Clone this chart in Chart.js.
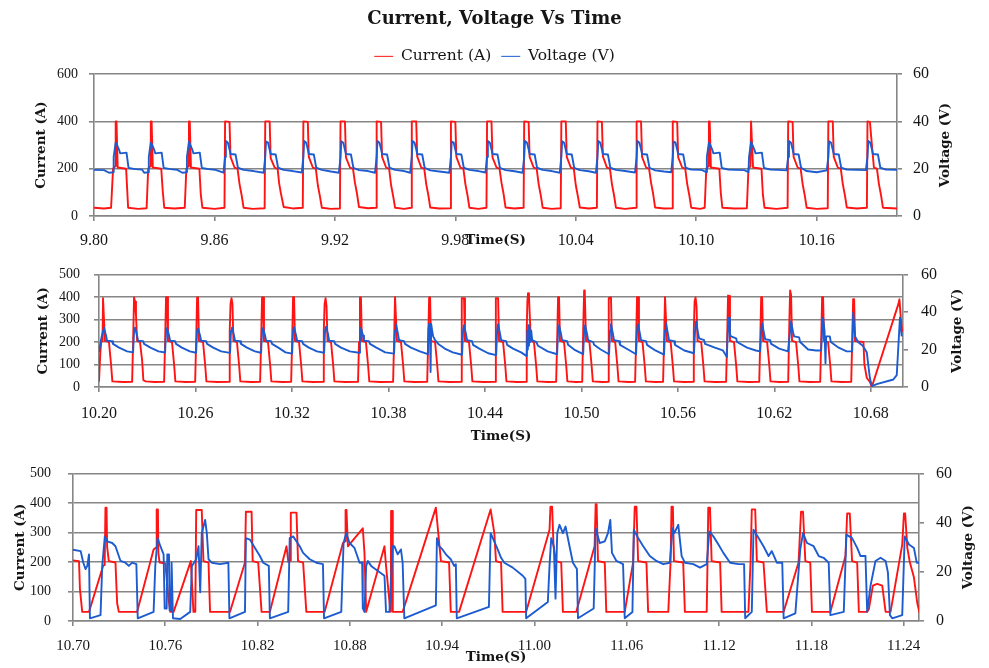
<!DOCTYPE html>
<html>
<head>
<meta charset="utf-8">
<title>Current, Voltage Vs Time</title>
<script src="https://cdn.jsdelivr.net/npm/chart.js@4.4.1/dist/chart.umd.min.js"></script>
<style>
  body { margin: 0; background: #fff; }
  #wrap { position: relative; width: 989px; height: 668px; }
  canvas { position: absolute; left: 0; }
</style>
</head>
<body>
<div id="wrap">
  <canvas id="c1" width="989" height="252" style="top:0"></canvas>
  <canvas id="c2" width="989" height="196" style="top:252px"></canvas>
  <canvas id="c3" width="989" height="220" style="top:448px"></canvas>
</div>
<script>
// Titles and series names
const chartTitle = 'Current, Voltage Vs Time';
const seriesNames = ['Current (A)', 'Voltage (V)'];
const timeTitle = 'Time(S)';

// Tick labels
const p1TimeTicks = [9.80, 9.86, 9.92, 9.98, 10.04, 10.10, 10.16];
const p2TimeTicks = [10.20, 10.26, 10.32, 10.38, 10.44, 10.50, 10.56, 10.62, 10.68];
const p3TimeTicks = [10.70, 10.76, 10.82, 10.88, 10.94, 11.00, 11.06, 11.12, 11.18, 11.24];
const p1AmpTicks = [0, 200, 400, 600];
const p23AmpTicks = [0, 100, 200, 300, 400, 500];
const voltTicks = [0, 20, 40, 60];

// Panel 1 (9.80 - 10.20 s): [time, value]
const p1Current = [
  [9.8000, 35], [9.8050, 32],
  [9.8085, 35], [9.8095, 200], [9.8105, 210], [9.8108, 400], [9.8112, 400], [9.8118, 205], [9.8160, 200], [9.8170, 35], [9.8220, 30],
  [9.8262, 33], [9.8270, 200], [9.8280, 210], [9.8283, 400], [9.8287, 400], [9.8293, 205], [9.8335, 200], [9.8342, 110], [9.8350, 35], [9.8400, 32],
  [9.8452, 35], [9.8460, 200], [9.8470, 210], [9.8473, 400], [9.8477, 400], [9.8483, 205], [9.8525, 200], [9.8532, 90], [9.8540, 35], [9.8600, 30],
  [9.8650, 35], [9.8653, 400], [9.8675, 398], [9.8680, 250], [9.8700, 205], [9.8715, 200], [9.8725, 135], [9.8735, 90], [9.8745, 35], [9.8790, 30],
  [9.8850, 33], [9.8853, 400], [9.8875, 400], [9.8880, 245], [9.8900, 205], [9.8915, 198], [9.8922, 140], [9.8930, 100], [9.8945, 38], [9.8990, 32],
  [9.9040, 35], [9.9043, 400], [9.9065, 398], [9.9070, 250], [9.9090, 205], [9.9105, 200], [9.9115, 130], [9.9125, 85], [9.9135, 35], [9.9180, 30],
  [9.9225, 32], [9.9228, 400], [9.9250, 400], [9.9255, 248], [9.9275, 205], [9.9290, 200], [9.9300, 140], [9.9310, 95], [9.9320, 38], [9.9365, 33],
  [9.9405, 35], [9.9408, 400], [9.9430, 398], [9.9435, 250], [9.9455, 205], [9.9470, 200], [9.9480, 130], [9.9490, 85], [9.9500, 35], [9.9545, 30],
  [9.9580, 35], [9.9583, 400], [9.9605, 400], [9.9610, 252], [9.9630, 205], [9.9645, 200], [9.9655, 135], [9.9665, 90], [9.9675, 36], [9.9720, 32],
  [9.9775, 33], [9.9778, 400], [9.9800, 398], [9.9805, 250], [9.9825, 205], [9.9840, 200], [9.9850, 135], [9.9860, 90], [9.9870, 35], [9.9915, 30],
  [9.9955, 35], [9.9958, 400], [9.9980, 400], [9.9985, 248], [10.0005, 205], [10.0020, 200], [10.0030, 140], [10.0040, 95], [10.0050, 36], [10.0095, 32],
  [10.0140, 35], [10.0143, 400], [10.0165, 398], [10.0170, 250], [10.0190, 205], [10.0205, 200], [10.0215, 135], [10.0225, 90], [10.0235, 35], [10.0280, 30],
  [10.0325, 33], [10.0328, 400], [10.0350, 400], [10.0355, 250], [10.0375, 205], [10.0390, 200], [10.0400, 130], [10.0410, 85], [10.0420, 36], [10.0465, 32],
  [10.0505, 35], [10.0508, 400], [10.0530, 398], [10.0535, 252], [10.0555, 205], [10.0570, 200], [10.0580, 135], [10.0590, 90], [10.0600, 35], [10.0645, 30],
  [10.0700, 35], [10.0703, 400], [10.0725, 400], [10.0730, 250], [10.0750, 205], [10.0765, 200], [10.0775, 140], [10.0785, 95], [10.0795, 36], [10.0840, 32],
  [10.0880, 33], [10.0883, 400], [10.0905, 398], [10.0910, 248], [10.0930, 205], [10.0945, 200], [10.0955, 135], [10.0965, 90], [10.0975, 35], [10.1020, 30],
  [10.1042, 35], [10.1050, 200], [10.1060, 210], [10.1063, 400], [10.1067, 400], [10.1073, 205], [10.1115, 200], [10.1122, 100], [10.1130, 35], [10.1190, 32],
  [10.1252, 33], [10.1260, 200], [10.1270, 210], [10.1273, 400], [10.1277, 400], [10.1283, 205], [10.1325, 200], [10.1332, 90], [10.1340, 35], [10.1400, 30],
  [10.1455, 35], [10.1458, 400], [10.1480, 398], [10.1485, 250], [10.1505, 205], [10.1520, 200], [10.1530, 135], [10.1540, 90], [10.1550, 35], [10.1600, 30],
  [10.1655, 33], [10.1658, 400], [10.1680, 400], [10.1685, 250], [10.1705, 205], [10.1720, 200], [10.1730, 135], [10.1740, 90], [10.1750, 36], [10.1800, 32],
  [10.1850, 35], [10.1853, 400], [10.1865, 398], [10.1875, 300], [10.1885, 205], [10.1900, 200], [10.1910, 135], [10.1920, 90], [10.1930, 35], [10.2000, 32]
];

const p1Voltage = [
  [9.8000, 19.5], [9.8050, 19.4],
  [9.8075, 18.3], [9.8095, 18.5], [9.8098, 25], [9.8108, 31], [9.8115, 30], [9.8125, 28], [9.8130, 26.5], [9.8162, 26.8], [9.8172, 20.3], [9.8205, 19.8], [9.8240, 19.6],
  [9.8250, 18.3], [9.8270, 18.5], [9.8273, 25], [9.8283, 31], [9.8290, 30], [9.8300, 28], [9.8305, 26.5], [9.8337, 26.8], [9.8347, 20.3], [9.8380, 19.8], [9.8415, 19.5],
  [9.8440, 18.3], [9.8460, 18.5], [9.8463, 25], [9.8473, 31.5], [9.8480, 30], [9.8490, 28], [9.8495, 26.5], [9.8527, 26.8], [9.8537, 20.3], [9.8570, 19.8], [9.8605, 19.5],
  [9.8645, 18.3], [9.8653, 25], [9.8657, 31.7], [9.8667, 31], [9.8675, 28.2], [9.8680, 26.2], [9.8705, 26], [9.8717, 20.4], [9.8745, 19.5], [9.8795, 19],
  [9.8845, 18.3], [9.8853, 25], [9.8857, 31.5], [9.8867, 31], [9.8875, 28], [9.8880, 26.2], [9.8905, 26], [9.8917, 20.4], [9.8945, 19.5], [9.8990, 19],
  [9.9035, 18.4], [9.9043, 25], [9.9047, 31.7], [9.9057, 31], [9.9065, 28.2], [9.9070, 26.2], [9.9095, 26], [9.9107, 20.4], [9.9135, 19.5], [9.9180, 18.8],
  [9.9220, 18.3], [9.9228, 25], [9.9232, 31.6], [9.9242, 31], [9.9250, 28], [9.9255, 26.2], [9.9280, 26], [9.9292, 20.4], [9.9320, 19.4], [9.9365, 19],
  [9.9400, 18.3], [9.9408, 25], [9.9412, 31.7], [9.9422, 31], [9.9430, 28.2], [9.9435, 26.2], [9.9460, 26], [9.9472, 20.4], [9.9500, 19.5], [9.9545, 19],
  [9.9575, 18.3], [9.9583, 25], [9.9587, 31.7], [9.9597, 31], [9.9605, 28.2], [9.9610, 26.2], [9.9635, 26], [9.9647, 20.4], [9.9675, 19.3], [9.9720, 18.8],
  [9.9770, 18.3], [9.9778, 25], [9.9782, 31.5], [9.9792, 31], [9.9800, 28], [9.9805, 26.2], [9.9830, 26], [9.9842, 20.4], [9.9870, 19.5], [9.9915, 19],
  [9.9950, 18.4], [9.9958, 25], [9.9962, 31.7], [9.9972, 31], [9.9980, 28.2], [9.9985, 26.2], [10.0010, 26], [10.0022, 20.4], [10.0050, 19.4], [10.0095, 18.9],
  [10.0135, 18.3], [10.0143, 25], [10.0147, 31.7], [10.0157, 31], [10.0165, 28.2], [10.0170, 26.2], [10.0195, 26], [10.0207, 20.4], [10.0235, 19.5], [10.0280, 19],
  [10.0320, 18.3], [10.0328, 25], [10.0332, 31.6], [10.0342, 31], [10.0350, 28], [10.0355, 26.2], [10.0380, 26], [10.0392, 20.4], [10.0420, 19.4], [10.0465, 18.9],
  [10.0500, 18.3], [10.0508, 25], [10.0512, 31.7], [10.0522, 31], [10.0530, 28.2], [10.0535, 26.2], [10.0560, 26], [10.0572, 20.4], [10.0600, 19.5], [10.0645, 19],
  [10.0695, 18.4], [10.0703, 25], [10.0707, 31.7], [10.0717, 31], [10.0725, 28.2], [10.0730, 26.2], [10.0755, 26], [10.0767, 20.4], [10.0795, 19.3], [10.0840, 18.8],
  [10.0875, 18.5], [10.0883, 25], [10.0887, 31.5], [10.0897, 31], [10.0905, 28], [10.0910, 26.2], [10.0935, 26], [10.0947, 20.4], [10.0975, 19.6], [10.1020, 19.5],
  [10.1030, 19.4], [10.1050, 18.5], [10.1053, 25], [10.1063, 31], [10.1070, 30], [10.1080, 28], [10.1085, 26.5], [10.1117, 26.8], [10.1127, 20.3], [10.1160, 19.6], [10.1195, 19.5],
  [10.1240, 19.4], [10.1260, 18.5], [10.1263, 25], [10.1273, 31.3], [10.1280, 30], [10.1290, 28], [10.1295, 26.5], [10.1327, 26.8], [10.1337, 20.3], [10.1370, 19.6], [10.1405, 19.5],
  [10.1450, 19.3], [10.1458, 25], [10.1462, 31.7], [10.1472, 31], [10.1480, 28.2], [10.1485, 26.2], [10.1510, 26], [10.1522, 20.4], [10.1550, 19], [10.1600, 18.5],
  [10.1650, 19.3], [10.1658, 25], [10.1662, 31.6], [10.1672, 31], [10.1680, 28], [10.1685, 26.2], [10.1710, 26], [10.1722, 20.4], [10.1750, 19.6], [10.1800, 19.5],
  [10.1845, 19.4], [10.1853, 25], [10.1857, 31.7], [10.1867, 31], [10.1875, 28.2], [10.1880, 26.2], [10.1905, 26], [10.1917, 20.4], [10.1945, 19.6], [10.2000, 19.5]
];

// Panel 2 (10.20 - 10.70 s)
const p2Current = [
  [10.2000, 23], [10.2008, 150], [10.2014, 200], [10.2022, 205],
  [10.2025, 395], [10.2031, 395], [10.2037, 205], [10.2062, 200], [10.2075, 100], [10.2083, 25], [10.2150, 22],
  [10.2206, 23], [10.2212, 200], [10.2218, 398], [10.2224, 380], [10.2230, 320], [10.2237, 205], [10.2255, 200], [10.2268, 120], [10.2276, 30], [10.2290, 25], [10.2345, 22],
  [10.2405, 23], [10.2411, 200], [10.2417, 400], [10.2423, 400], [10.2429, 205], [10.2454, 200], [10.2467, 100], [10.2475, 25], [10.2540, 22],
  [10.2598, 23], [10.2604, 200], [10.2610, 398], [10.2616, 398], [10.2622, 205], [10.2647, 200], [10.2660, 100], [10.2668, 25], [10.2735, 22],
  [10.2809, 23], [10.2813, 250], [10.2818, 370], [10.2824, 395], [10.2830, 370], [10.2836, 205], [10.2858, 200], [10.2871, 100], [10.2879, 25], [10.2945, 22],
  [10.3002, 23], [10.3008, 200], [10.3014, 398], [10.3020, 398], [10.3026, 205], [10.3051, 200], [10.3064, 100], [10.3072, 25], [10.3140, 22],
  [10.3195, 23], [10.3201, 200], [10.3207, 400], [10.3213, 400], [10.3219, 205], [10.3244, 200], [10.3257, 100], [10.3265, 25], [10.3330, 22],
  [10.3394, 23], [10.3398, 250], [10.3403, 370], [10.3409, 395], [10.3415, 360], [10.3421, 205], [10.3443, 200], [10.3456, 100], [10.3464, 25], [10.3530, 22],
  [10.3611, 23], [10.3617, 200], [10.3623, 398], [10.3629, 398], [10.3635, 205], [10.3660, 200], [10.3673, 100], [10.3681, 25], [10.3750, 22],
  [10.3829, 23], [10.3835, 200], [10.3841, 400], [10.3847, 400], [10.3853, 205], [10.3878, 200], [10.3891, 100], [10.3899, 25], [10.3960, 22],
  [10.4041, 23], [10.4047, 200], [10.4053, 398], [10.4059, 398], [10.4065, 205], [10.4090, 200], [10.4103, 100], [10.4111, 25], [10.4180, 22],
  [10.4252, 23], [10.4256, 395], [10.4270, 395], [10.4276, 205], [10.4301, 200], [10.4314, 100], [10.4322, 25], [10.4390, 22],
  [10.4464, 23], [10.4468, 395], [10.4482, 395], [10.4488, 205], [10.4513, 200], [10.4526, 100], [10.4534, 25], [10.4600, 22],
  [10.4656, 23], [10.4660, 250], [10.4664, 380], [10.4668, 417], [10.4674, 405], [10.4680, 300], [10.4686, 205], [10.4705, 200], [10.4718, 100], [10.4726, 25], [10.4790, 22],
  [10.4843, 23], [10.4849, 200], [10.4855, 400], [10.4861, 400], [10.4867, 205], [10.4892, 200], [10.4905, 100], [10.4913, 25], [10.4965, 22],
  [10.5005, 23], [10.5011, 250], [10.5017, 430], [10.5021, 420], [10.5029, 205], [10.5050, 200], [10.5063, 100], [10.5071, 25], [10.5130, 22],
  [10.5166, 23], [10.5170, 395], [10.5184, 398], [10.5190, 205], [10.5210, 200], [10.5223, 100], [10.5231, 25], [10.5290, 22],
  [10.5334, 23], [10.5340, 200], [10.5346, 400], [10.5352, 400], [10.5358, 205], [10.5380, 200], [10.5393, 100], [10.5401, 25], [10.5460, 22],
  [10.5508, 23], [10.5514, 200], [10.5520, 400], [10.5526, 400], [10.5532, 205], [10.5555, 200], [10.5568, 100], [10.5576, 25], [10.5640, 22],
  [10.5695, 23], [10.5699, 250], [10.5704, 380], [10.5710, 398], [10.5716, 360], [10.5722, 205], [10.5745, 200], [10.5758, 100], [10.5766, 25], [10.5830, 22],
  [10.5900, 23], [10.5906, 200], [10.5912, 407], [10.5918, 405], [10.5924, 205], [10.5949, 200], [10.5962, 100], [10.5970, 25], [10.6040, 22],
  [10.6106, 23], [10.6112, 200], [10.6118, 400], [10.6124, 400], [10.6130, 205], [10.6155, 200], [10.6168, 100], [10.6176, 25], [10.6230, 22],
  [10.6286, 23], [10.6292, 250], [10.6298, 430], [10.6304, 410], [10.6310, 205], [10.6335, 200], [10.6348, 100], [10.6356, 25], [10.6420, 22],
  [10.6485, 23], [10.6491, 200], [10.6497, 400], [10.6503, 400], [10.6509, 205], [10.6534, 200], [10.6547, 100], [10.6555, 25], [10.6620, 22],
  [10.6678, 23], [10.6684, 200], [10.6690, 391], [10.6696, 391], [10.6702, 204], [10.6754, 200], [10.6760, 100], [10.6775, 40], [10.6794, 23], [10.6806, 0],
  [10.6972, 371], [10.6978, 390], [10.6987, 300], [10.6995, 245]
];

const p2Voltage = [
  [10.2000, 18.6], [10.2012, 25],
  [10.2025, 30], [10.2031, 31.7], [10.2044, 27.4], [10.2050, 24.7], [10.2081, 24.5], [10.2087, 23], [10.2125, 21], [10.2175, 19], [10.2212, 18.5],
  [10.2218, 30], [10.2224, 31.7], [10.2237, 27.4], [10.2243, 24.7], [10.2274, 24.5], [10.2280, 23], [10.2320, 21], [10.2370, 19], [10.2411, 18.4],
  [10.2417, 30], [10.2423, 31.5], [10.2436, 27.4], [10.2442, 24.7], [10.2473, 24.5], [10.2479, 23], [10.2515, 21], [10.2565, 19], [10.2604, 18.3],
  [10.2610, 30], [10.2616, 31.3], [10.2629, 27.4], [10.2635, 24.7], [10.2666, 24.5], [10.2672, 23], [10.2710, 21], [10.2760, 19], [10.2815, 18.2],
  [10.2821, 30], [10.2827, 31.6], [10.2840, 27.4], [10.2846, 24.7], [10.2877, 24.5], [10.2883, 23], [10.2920, 21], [10.2970, 19], [10.3008, 18.3],
  [10.3014, 30], [10.3020, 31.5], [10.3033, 27.4], [10.3039, 24.7], [10.3070, 24.5], [10.3076, 23], [10.3115, 21], [10.3160, 18.5], [10.3201, 17.8],
  [10.3207, 30], [10.3213, 32], [10.3226, 27.4], [10.3232, 24.7], [10.3263, 24.5], [10.3269, 23], [10.3305, 21], [10.3355, 19], [10.3400, 18.3],
  [10.3406, 30], [10.3412, 32.2], [10.3425, 28], [10.3431, 24.7], [10.3462, 24.5], [10.3468, 23], [10.3505, 21], [10.3560, 19], [10.3617, 18.3],
  [10.3623, 30], [10.3629, 31.5], [10.3642, 27.4], [10.3648, 24.7], [10.3679, 24.5], [10.3685, 23], [10.3725, 21], [10.3780, 18.5], [10.3835, 17.8],
  [10.3841, 30], [10.3847, 33.5], [10.3860, 28], [10.3866, 25], [10.3897, 24.5], [10.3903, 23], [10.3940, 21], [10.3995, 19], [10.4045, 17.5],
  [10.4049, 31], [10.4053, 33.6], [10.4058, 30], [10.4062, 8], [10.4066, 33.6], [10.4072, 30], [10.4078, 27], [10.4090, 25], [10.4110, 23], [10.4150, 20.5], [10.4200, 18.5], [10.4258, 17.2],
  [10.4264, 30], [10.4270, 33], [10.4283, 28], [10.4289, 25], [10.4320, 24.5], [10.4326, 22.5], [10.4365, 20.5], [10.4420, 18], [10.4470, 17],
  [10.4476, 30], [10.4482, 33.5], [10.4495, 28], [10.4501, 25], [10.4532, 24.5], [10.4538, 22.5], [10.4575, 20.5], [10.4625, 18.5], [10.4660, 16.5],
  [10.4664, 30], [10.4667, 20], [10.4670, 33], [10.4674, 22], [10.4678, 32], [10.4682, 24], [10.4688, 30], [10.4694, 25], [10.4720, 24], [10.4730, 22], [10.4790, 19], [10.4849, 17.5],
  [10.4855, 30], [10.4861, 33], [10.4874, 28], [10.4880, 25], [10.4911, 24.5], [10.4917, 22.5], [10.4955, 20], [10.5011, 17.5],
  [10.5017, 30], [10.5023, 33], [10.5036, 28], [10.5042, 25], [10.5073, 24], [10.5079, 22.5], [10.5120, 20], [10.5172, 17.5],
  [10.5178, 30], [10.5184, 33.5], [10.5197, 28], [10.5203, 25], [10.5234, 24.5], [10.5240, 22.5], [10.5290, 20], [10.5340, 17.5],
  [10.5346, 30], [10.5352, 33.5], [10.5365, 28], [10.5371, 25], [10.5402, 24.5], [10.5408, 22.5], [10.5460, 19.5], [10.5514, 17.3],
  [10.5520, 30], [10.5526, 34], [10.5539, 28], [10.5545, 25], [10.5576, 24.5], [10.5582, 22.5], [10.5640, 19.5], [10.5700, 18],
  [10.5707, 30], [10.5713, 35], [10.5726, 28.5], [10.5732, 26], [10.5763, 25], [10.5769, 23], [10.5830, 21], [10.5880, 19.5], [10.5905, 16],
  [10.5906, 20], [10.5912, 32], [10.5918, 37], [10.5924, 28], [10.5931, 27], [10.5962, 26], [10.5968, 24], [10.6030, 21], [10.6085, 19.5], [10.6112, 19],
  [10.6118, 30], [10.6124, 34], [10.6137, 28], [10.6143, 25.5], [10.6174, 25], [10.6180, 23], [10.6230, 20.5], [10.6285, 19],
  [10.6298, 30], [10.6304, 35], [10.6317, 29], [10.6323, 27], [10.6354, 26.5], [10.6360, 24], [10.6410, 20], [10.6460, 19.5], [10.6491, 19.5],
  [10.6497, 30], [10.6503, 37], [10.6512, 30], [10.6518, 12.6], [10.6522, 27], [10.6545, 27], [10.6551, 24], [10.6600, 21], [10.6650, 19], [10.6684, 19],
  [10.6690, 39.6], [10.6702, 27], [10.6720, 24], [10.6750, 22], [10.6775, 18.4], [10.6794, 4.8], [10.6806, 0.5], [10.6837, 1.5],
  [10.6940, 4], [10.6961, 6.3], [10.6981, 37], [10.6992, 27]
];

// Panel 3 (10.70 - 11.25 s)
const p3Current = [
  [10.7000, 205], [10.7039, 203], [10.7045, 109], [10.7060, 31], [10.7104, 31], [10.7196, 187], [10.7206, 190], [10.7211, 384], [10.7218, 384],
  [10.7222, 250], [10.7233, 203], [10.7276, 198], [10.7287, 60], [10.7298, 31], [10.7417, 31], [10.7524, 242], [10.7542, 250], [10.7544, 378],
  [10.7552, 378], [10.7555, 230], [10.7563, 198], [10.7600, 195], [10.7620, 80], [10.7632, 31], [10.7654, 31], [10.7766, 203], [10.7783, 31],
  [10.7795, 31], [10.7801, 376], [10.7837, 376], [10.7848, 203], [10.7881, 198], [10.7891, 31], [10.8021, 31], [10.8118, 198], [10.8124, 370],
  [10.8161, 370], [10.8168, 203], [10.8204, 198], [10.8226, 31], [10.8280, 31], [10.8388, 253], [10.8400, 200], [10.8414, 205], [10.8416, 367],
  [10.8453, 367], [10.8463, 203], [10.8496, 198], [10.8517, 31], [10.8636, 31], [10.8755, 264], [10.8770, 270], [10.8772, 376], [10.8778, 376],
  [10.8787, 253], [10.8884, 314], [10.8895, 230], [10.8906, 31], [10.9025, 253], [10.9035, 187], [10.9060, 50], [10.9066, 31], [10.9068, 373],
  [10.9076, 373], [10.9079, 31], [10.9143, 31], [10.9359, 384], [10.9392, 203], [10.9445, 198], [10.9456, 31], [10.9510, 31], [10.9715, 378],
  [10.9739, 298], [10.9750, 203], [10.9783, 198], [10.9793, 31], [10.9946, 31], [11.0098, 309], [11.0104, 387], [11.0115, 387], [11.0124, 253],
  [11.0141, 203], [11.0174, 198], [11.0185, 31], [11.0272, 31], [11.0391, 253], [11.0398, 396], [11.0404, 396], [11.0413, 203], [11.0457, 198],
  [11.0467, 31], [11.0587, 31], [11.0641, 198], [11.0652, 387], [11.0663, 387], [11.0674, 203], [11.0728, 198], [11.0739, 31], [11.0870, 31],
  [11.0885, 200], [11.0891, 387], [11.0900, 387], [11.0907, 203], [11.0967, 198], [11.0978, 31], [11.1120, 31], [11.1125, 200], [11.1130, 384],
  [11.1141, 384], [11.1152, 203], [11.1207, 198], [11.1217, 31], [11.1391, 31], [11.1405, 200], [11.1413, 378], [11.1435, 378], [11.1446, 203],
  [11.1489, 198], [11.1511, 31], [11.1620, 31], [11.1717, 198], [11.1733, 370], [11.1746, 370], [11.1761, 203], [11.1793, 198], [11.1804, 31],
  [11.1924, 31], [11.2022, 220], [11.2033, 364], [11.2050, 364], [11.2065, 203], [11.2098, 198], [11.2109, 31], [11.2163, 31], [11.2174, 40],
  [11.2200, 120], [11.2228, 126], [11.2261, 120], [11.2283, 31], [11.2315, 31], [11.2391, 259], [11.2402, 364], [11.2410, 364], [11.2424, 248],
  [11.2440, 200], [11.2467, 148], [11.2489, 60], [11.2504, 27]
];

const p3Voltage = [
  [10.7000, 29.0], [10.7050, 28.4], [10.7067, 23.7], [10.7082, 21.1], [10.7093, 22.4], [10.7104, 27.1], [10.7110, 1.1], [10.7179, 2.4],
  [10.7190, 22.4], [10.7207, 34.4], [10.7222, 32.4], [10.7255, 31.7], [10.7276, 30.4], [10.7309, 24.4], [10.7341, 23.7], [10.7363, 22.4],
  [10.7384, 23.7], [10.7412, 23.1], [10.7421, 1.1], [10.7524, 3.7], [10.7535, 22.4], [10.7550, 33.7], [10.7568, 30.4], [10.7589, 27.1],
  [10.7596, 5.1], [10.7609, 5.1], [10.7613, 27.1], [10.7624, 27.1], [10.7628, 4.4], [10.7637, 4.4], [10.7641, 23.7], [10.7650, 1.1],
  [10.7697, 0.8], [10.7762, 3.7], [10.7773, 22.4], [10.7801, 25.1], [10.7816, 30.4], [10.7827, 11.7], [10.7837, 35.7], [10.7859, 41.1],
  [10.7870, 35.7], [10.7881, 25.1], [10.7902, 23.7], [10.7956, 23.1], [10.8010, 23.7], [10.8017, 1.1], [10.8118, 3.7], [10.8124, 33.7],
  [10.8150, 33.1], [10.8183, 29.7], [10.8215, 26.4], [10.8237, 23.7], [10.8273, 22.4], [10.8280, 1.1], [10.8399, 3.7], [10.8409, 33.7],
  [10.8431, 34.4], [10.8474, 30.4], [10.8496, 27.7], [10.8539, 25.1], [10.8582, 23.7], [10.8625, 23.1], [10.8632, 1.1], [10.8744, 3.7],
  [10.8759, 31.7], [10.8776, 35.7], [10.8798, 31.7], [10.8830, 29.7], [10.8863, 23.7], [10.8880, 23.7], [10.8884, 5.1], [10.8895, 3.7],
  [10.8906, 22.4], [10.8917, 24.4], [10.8938, 22.4], [10.9025, 18.4], [10.9035, 3.7], [10.9057, 3.7], [10.9079, 30.4], [10.9089, 30.4],
  [10.9111, 27.1], [10.9132, 29.1], [10.9143, 23.7], [10.9154, 1.1], [10.9359, 6.4], [10.9366, 33.7], [10.9381, 30.4], [10.9402, 29.1],
  [10.9424, 27.1], [10.9456, 25.1], [10.9478, 22.4], [10.9489, 23.1], [10.9495, 1.1], [10.9704, 5.7], [10.9715, 35.7], [10.9761, 29.1],
  [10.9783, 25.7], [10.9804, 23.7], [10.9859, 21.7], [10.9924, 18.4], [10.9941, 17.1], [10.9946, 1.1], [11.0087, 7.7], [11.0098, 22.4],
  [11.0109, 33.7], [11.0126, 30.4], [11.0137, 9.1], [11.0148, 35.7], [11.0163, 39.1], [11.0185, 35.7], [11.0202, 38.4], [11.0228, 30.4],
  [11.0250, 23.7], [11.0276, 21.1], [11.0283, 1.1], [11.0385, 5.1], [11.0398, 37.7], [11.0424, 31.7], [11.0457, 32.4], [11.0478, 35.7],
  [11.0493, 41.1], [11.0504, 27.7], [11.0533, 24.4], [11.0576, 23.1], [11.0587, 1.1], [11.0637, 3.7], [11.0646, 37.1], [11.0674, 33.7],
  [11.0707, 30.4], [11.0750, 26.4], [11.0793, 24.4], [11.0837, 23.1], [11.0880, 23.7], [11.0898, 37.7], [11.0909, 35.7], [11.0935, 39.1],
  [11.0957, 26.4], [11.0978, 23.7], [11.1033, 23.1], [11.1076, 21.7], [11.1120, 23.1], [11.1137, 36.4], [11.1163, 34.4], [11.1196, 31.1],
  [11.1228, 27.7], [11.1272, 23.7], [11.1326, 23.1], [11.1363, 23.1], [11.1370, 1.1], [11.1413, 3.7], [11.1424, 37.1], [11.1457, 33.7],
  [11.1489, 30.4], [11.1522, 26.4], [11.1543, 28.4], [11.1576, 23.7], [11.1611, 23.7], [11.1620, 1.1], [11.1696, 3.1], [11.1728, 29.1],
  [11.1746, 35.7], [11.1772, 31.7], [11.1815, 30.4], [11.1848, 26.4], [11.1880, 25.7], [11.1913, 23.7], [11.1924, 2.4], [11.2011, 3.7],
  [11.2028, 35.1], [11.2065, 33.7], [11.2098, 29.7], [11.2120, 26.4], [11.2152, 26.4], [11.2163, 3.7], [11.2185, 14.4], [11.2217, 24.4],
  [11.2250, 25.7], [11.2283, 24.4], [11.2298, 19.7], [11.2311, 2.4], [11.2326, 1.1], [11.2391, 2.4], [11.2407, 34.4], [11.2435, 31.1],
  [11.2467, 29.7], [11.2485, 23.7], [11.2504, 23.7]
];

const RED = '#ff1414';
const BLUE = '#1d5cd0';
const GRID = '#868686';
const TXT = '#151515';
const SERIF = "'Liberation Serif', 'Times New Roman', serif";
const WIDE = "'DejaVu Serif', 'Liberation Serif', serif";
const W = 989;

const toXY = pts => pts.map(p => ({ x: p[0], y: p[1] }));
const asTicks = vals => vals.map(v => ({ value: v }));

// right-hand axis title, read bottom-to-top like the left one
const rightTitle = {
  id: 'rightTitle',
  afterDraw(chart, args, o) {
    const { ctx, chartArea } = chart;
    ctx.save();
    ctx.translate(o.x, (chartArea.top + chartArea.bottom) / 2);
    ctx.rotate(-Math.PI / 2);
    ctx.font = 'bold 13.5px ' + WIDE;
    ctx.fillStyle = TXT;
    ctx.textAlign = 'center';
    ctx.textBaseline = 'middle';
    ctx.fillText(o.text, 0, 0);
    ctx.restore();
  }
};

function drawPanel(p) {
  return new Chart(document.getElementById(p.id), {
    type: 'line',
    data: {
      datasets: [
        { label: seriesNames[0], data: toXY(p.current), yAxisID: 'yA', borderColor: RED, backgroundColor: RED, order: 2 },
        { label: seriesNames[1], data: toXY(p.voltage), yAxisID: 'yV', borderColor: BLUE, backgroundColor: BLUE, order: 1 }
      ]
    },
    options: {
      responsive: false,
      animation: false,
      events: [],
      layout: { padding: { top: p.padTop, left: 0, right: 0, bottom: 0 } },
      elements: {
        line: { borderWidth: 1.9, tension: 0, borderJoinStyle: 'round', fill: false },
        point: { radius: 0, pointStyle: 'line' }
      },
      plugins: {
        title: p.head ? {
          display: true, text: chartTitle, color: TXT,
          font: { family: WIDE, size: 18, weight: 'bold' },
          padding: { top: 9, bottom: 8 }
        } : { display: false },
        legend: p.head ? {
          display: true,
          labels: {
            usePointStyle: true, pointStyle: 'line', pointStyleWidth: 19,
            color: TXT, font: { family: WIDE, size: 15.5 }, padding: 10,
            sort: (a, b) => a.datasetIndex - b.datasetIndex
          }
        } : { display: false },
        tooltip: { enabled: false },
        rightTitle: { x: p.rightTitleX, text: seriesNames[1] }
      },
      scales: {
        x: {
          type: 'linear', min: p.tMin, max: p.tMax,
          afterBuildTicks: s => { s.ticks = asTicks(p.timeTicks); },
          afterFit: s => { s.height = p.xH; },
          ticks: {
            autoSkip: false, maxRotation: 0, padding: p.xPad, color: TXT,
            font: { family: SERIF, size: p.xFont },
            callback: v => v.toFixed(2)
          },
          grid: { drawOnChartArea: false, tickLength: 5, color: GRID, lineWidth: 1.6 },
          border: { color: GRID, width: 1.6 },
          title: {
            display: true, text: timeTitle, color: TXT,
            font: { family: WIDE, size: 13.5, weight: 'bold' },
            padding: { top: 0, bottom: p.xTitlePad }
          }
        },
        yA: {
          position: 'left', min: 0, max: p.ampMax,
          afterBuildTicks: s => { s.ticks = asTicks(p.ampTicks); },
          afterFit: s => { s.width = p.left; },
          ticks: { padding: p.yPadL, color: TXT, font: { family: SERIF, size: 14 } },
          grid: { color: GRID, lineWidth: 1.6, tickLength: 5 },
          border: { color: GRID, width: 1.6 },
          title: {
            display: true, text: seriesNames[0], color: TXT,
            font: { family: WIDE, size: 13.5, weight: 'bold' },
            padding: { top: p.leftTitlePad, bottom: 0 }
          }
        },
        yV: {
          position: 'right', min: 0, max: 60,
          afterBuildTicks: s => { s.ticks = asTicks(voltTicks); },
          afterFit: s => { s.width = W - p.right; },
          ticks: { padding: p.yPadR, color: TXT, font: { family: SERIF, size: 16 } },
          grid: { drawOnChartArea: false, color: GRID, lineWidth: 1.6, tickLength: 5 },
          border: { color: GRID, width: 1.6 }
        }
      }
    },
    plugins: [rightTitle]
  });
}

drawPanel({
  id: 'c1', head: true, current: p1Current, voltage: p1Voltage,
  tMin: 9.80, tMax: 10.20, timeTicks: p1TimeTicks, ampMax: 600, ampTicks: p1AmpTicks,
  padTop: 0, left: 94, right: 897, xH: 36, xPad: 10, xFont: 16, xTitlePad: 3,
  yPadL: 11, yPadR: 11, leftTitlePad: 33, rightTitleX: 945
});

drawPanel({
  id: 'c2', head: false, current: p2Current, voltage: p2Voltage,
  tMin: 10.20, tMax: 10.70, timeTicks: p2TimeTicks, ampMax: 500, ampTicks: p23AmpTicks,
  padTop: 20, left: 99, right: 903, xH: 61, xPad: 12, xFont: 16, xTitlePad: 3,
  yPadL: 14, yPadR: 13, leftTitlePad: 35, rightTitleX: 957
});

drawPanel({
  id: 'c3', head: false, current: p3Current, voltage: p3Voltage,
  tMin: 10.70, tMax: 11.25, timeTicks: p3TimeTicks, ampMax: 500, ampTicks: p23AmpTicks,
  padTop: 24, left: 73, right: 919, xH: 47, xPad: 11, xFont: 15, xTitlePad: 2,
  yPadL: 17, yPadR: 12, leftTitlePad: 12, rightTitleX: 968
});
</script>
</body>
</html>
